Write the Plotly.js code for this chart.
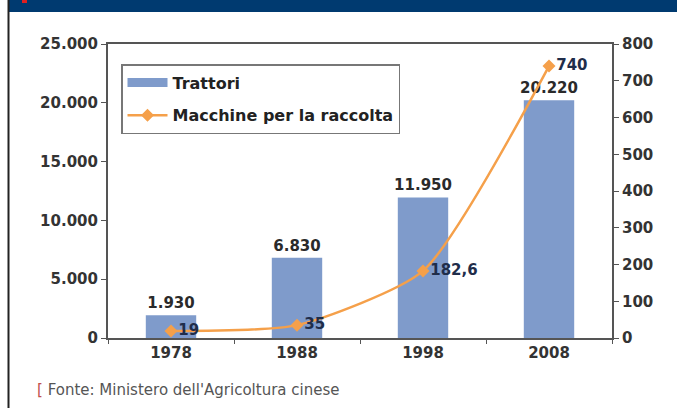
<!DOCTYPE html>
<html>
<head>
<meta charset="utf-8">
<script src="https://cdn.plot.ly/plotly-3.0.1.min.js"></script>
<style>html,body{margin:0;padding:0;background:#fff;}#chart{width:677px;height:408px;}</style>
</head>
<body>
<div id="chart"></div>
<script>
const years = ['1978', '1988', '1998', '2008'];
const trattori = [1930, 6830, 11950, 20220];
const macchine = [19, 35, 182.6, 740];
const trattoriName = 'Trattori';
const macchineName = 'Macchine per la raccolta';
const leftTicks = [0, 5000, 10000, 15000, 20000, 25000];
const rightTicks = [0, 100, 200, 300, 400, 500, 600, 700, 800];
const source = "Fonte: Ministero dell'Agricoltura cinese";

function fmtIt(v) {
  const parts = String(v).split('.');
  parts[0] = parts[0].replace(/\B(?=(\d{3})+(?!\d))/g, '.');
  return parts.join(',');
}

const L = 108, R = 612, T = 44, B = 338;
const W = R - L, H = B - T;
const px = x => (x - L) / W;
const py = y => (B - y) / H;

const FONT = 'DejaVu Sans, sans-serif';
const tickFont = {family: FONT, size: 15, color: '#333', weight: 'bold'};
const barColor = '#7f9bcb';
const lineColor = '#f5a04a';

const data = [
  {
    type: 'bar', name: trattoriName, x: years, y: trattori,
    marker: {color: barColor}, width: 0.4, showlegend: false,
    text: trattori.map(fmtIt), textposition: 'outside', constraintext: 'none',
    textfont: {family: FONT, size: 15, color: '#2a2a2a', weight: 'bold'},
    cliponaxis: false, hoverinfo: 'skip'
  },
  {
    // legend-only entry giving the wide flat swatch of the original legend
    type: 'scatter', mode: 'lines', name: trattoriName, x: [null], y: [null],
    legendgroup: 'a', line: {color: barColor, width: 9}, hoverinfo: 'skip'
  },
  {
    type: 'scatter', mode: 'lines+markers+text', name: macchineName, x: years, y: macchine,
    yaxis: 'y2', legendgroup: 'b',
    line: {color: lineColor, width: 2.5, shape: 'spline', smoothing: 0.6},
    marker: {symbol: 'diamond', size: 10, color: lineColor},
    text: macchine.map(fmtIt), textposition: 'middle right',
    textfont: {family: FONT, size: 15, color: '#1f2d4a', weight: 'bold'},
    cliponaxis: false, hoverinfo: 'skip'
  }
];

const layout = {
  width: 677, height: 408,
  margin: {l: L, r: 677 - R, t: T, b: 408 - B, pad: 0},
  paper_bgcolor: '#ffffff', plot_bgcolor: '#ffffff',
  separators: ',.',
  showlegend: true,
  legend: {
    x: px(121), y: py(64), xanchor: 'left', yanchor: 'top',
    bgcolor: '#ffffff', bordercolor: '#777', borderwidth: 1.5,
    font: {family: FONT, size: 16, color: '#222', weight: 'bold'},
    traceorder: 'grouped', itemwidth: 40, tracegroupgap: 9
  },
  xaxis: {
    type: 'category', showline: true, linecolor: '#555', linewidth: 2, mirror: true,
    ticks: 'outside', tickson: 'boundaries', ticklen: 4, tickcolor: '#555',
    tickfont: tickFont, showgrid: false, zeroline: false, fixedrange: true
  },
  yaxis: {
    range: [0, 25000], tickvals: leftTicks, ticktext: leftTicks.map(fmtIt),
    showline: true, linecolor: '#555', linewidth: 2,
    ticks: 'outside', ticklen: 5, tickcolor: '#555',
    tickfont: tickFont, showgrid: false, zeroline: false, fixedrange: true
  },
  yaxis2: {
    range: [0, 800], tickvals: rightTicks, overlaying: 'y', side: 'right',
    showline: true, linecolor: '#555', linewidth: 2,
    ticks: 'outside', ticklen: 5, tickcolor: '#555',
    tickfont: tickFont, showgrid: false, zeroline: false, fixedrange: true
  },
  shapes: [
    {type: 'rect', xref: 'paper', yref: 'paper', x0: px(8), x1: px(680), y0: py(12), y1: py(-2),
     fillcolor: '#003a70', line: {width: 0}, layer: 'above'},
    {type: 'rect', xref: 'paper', yref: 'paper', x0: px(22), x1: px(27), y0: py(3), y1: py(-2),
     fillcolor: '#e02020', line: {width: 0}, layer: 'above'},
    {type: 'line', xref: 'paper', yref: 'paper', x0: px(8.5), x1: px(8.5), y0: py(0), y1: py(410),
     line: {color: '#222', width: 2}, layer: 'above'}
  ],
  annotations: [
    {xref: 'paper', yref: 'paper', x: px(35), y: py(390), xanchor: 'left', yanchor: 'middle',
     showarrow: false, align: 'left',
     text: "<span style='color:#c0504d'>[</span> " + source,
     font: {family: FONT, size: 15, color: '#555'}}
  ]
};

Plotly.newPlot('chart', data, layout, {displayModeBar: false, staticPlot: true});
</script>
</body>
</html>
